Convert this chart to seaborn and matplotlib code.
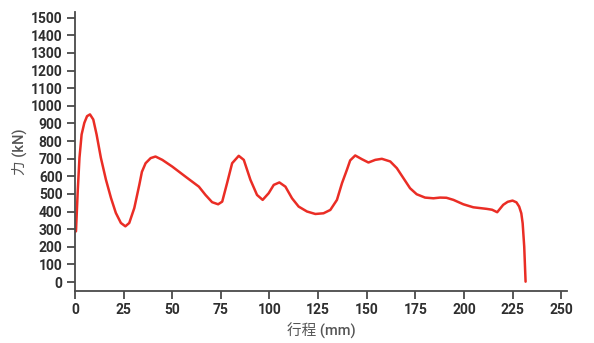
import matplotlib
matplotlib.use("Agg")
import matplotlib.pyplot as plt
import seaborn as sns
import pandas as pd

stroke_mm = [0.0, 0.5, 1.4, 2.3, 3.4, 4.8, 6.2, 7.7, 9.4, 11.1, 13.3, 15.9, 18.5, 21.0,
             23.6, 25.9, 27.9, 30.5, 33.1, 34.4, 36.3, 38.9, 41.4, 44.9, 50.0, 56.8,
             63.7, 67.1, 70.5, 73.6, 75.7, 78.2, 80.8, 84.2, 86.8, 90.2, 93.6, 96.5,
             99.6, 102.2, 105.1, 108.2, 111.6, 115.0, 119.3, 123.6, 127.8, 131.3, 134.7,
             137.3, 139.8, 141.5, 144.1, 147.5, 150.9, 154.4, 157.8, 162.1, 165.5, 168.9,
             172.3, 175.7, 180.0, 184.3, 187.7, 191.0, 194.6, 199.7, 204.8, 211.7, 214.5,
             217.1, 220.2, 222.5, 225.0, 227.0, 228.4, 229.5, 230.2, 231.0, 231.7]
force_kn = [285, 288, 515, 705, 837, 903, 941, 951, 922, 837, 705, 581, 477, 392,
            335, 316, 335, 420, 553, 625, 674, 703, 712, 693, 655, 598,
            541, 494, 453, 441, 456, 561, 674, 716, 693, 580, 494, 466,
            504, 551, 565, 541, 475, 428, 400, 386, 390, 409, 466,
            561, 636, 690, 718, 697, 678, 693, 699, 684, 646, 589,
            532, 498, 479, 475, 479, 478, 466, 441, 424, 415, 410,
            396, 438, 455, 462, 452, 428, 390, 333, 201, 2]

x_ticks = [0, 25, 50, 75, 100, 125, 150, 175, 200, 225, 250]
y_ticks = [0, 100, 200, 300, 400, 500, 600, 700, 800, 900, 1000, 1100, 1200, 1300, 1400, 1500]

sns.set_theme(style="white")
plt.rcParams["font.family"] = ["Roboto", "Noto Sans CJK SC", "DejaVu Sans"]

df = pd.DataFrame({"stroke": stroke_mm, "force": force_kn})

fig = plt.figure(figsize=(5.94, 3.43), dpi=100)
ax = fig.add_axes([75 / 594, 1 - 291 / 343, (567 - 75) / 594, (291 - 12) / 343])
line = sns.lineplot(data=df, x="stroke", y="force", sort=False, color="#ea2d25",
                    linewidth=1.8, ax=ax)
for ln in ax.lines:
    ln.set_solid_joinstyle("round")
    ln.set_solid_capstyle("round")

ax.set_xlim(0, 253)
ax.set_ylim(-51, 1532)
ax.set_xticks(x_ticks)
ax.set_yticks(y_ticks)
ax.set_xticklabels([str(v) for v in x_ticks])
ax.set_yticklabels([str(v) for v in y_ticks])

spine_c = "#4a4a4a"
for s in ["top", "right"]:
    ax.spines[s].set_visible(False)
for s in ["left", "bottom"]:
    ax.spines[s].set_color(spine_c)
    ax.spines[s].set_linewidth(1.3)

ax.tick_params(axis="both", which="major", direction="out", length=6, width=1.3,
               color=spine_c, labelsize=10, labelcolor="#2e2e2e", pad=3, left=True, bottom=True)
for lab in ax.get_xticklabels() + ax.get_yticklabels():
    lab.set_fontweight("bold")

ax.set_xlabel("行程 (mm)", fontsize=10.5, color="#555555", labelpad=4, fontweight="medium")
ax.set_ylabel("力 (kN)", fontsize=10.5, color="#555555", labelpad=3, fontweight="medium")
ax.grid(False)

fig.savefig("out.png", dpi=100)
